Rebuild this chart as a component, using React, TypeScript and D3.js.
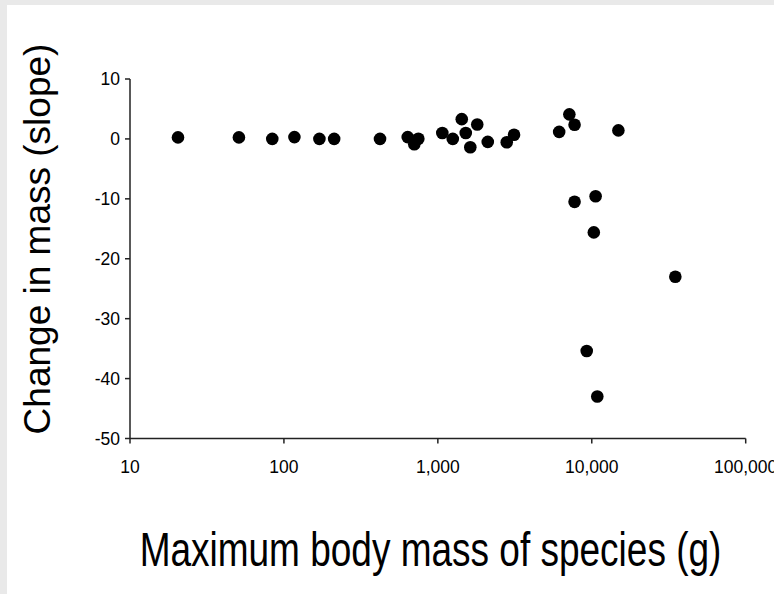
import React from "react";
import * as d3 from "d3";

const bodyMass = [20.5, 51, 84, 117, 170, 212, 421, 637, 747, 703, 1069, 1250, 1430, 1518, 1803, 1625, 2110, 2803, 3126, 6140, 7150, 7730, 14890, 7730, 10590, 10310, 34900, 9270, 10860];
const slope = [0.25, 0.25, 0, 0.3, 0, 0, 0, 0.3, 0.03, -0.9, 1.0, 0, 3.3, 1.0, 2.4, -1.4, -0.5, -0.55, 0.7, 1.17, 4.1, 2.37, 1.42, -10.5, -9.57, -15.6, -23.0, -35.4, -43.0];
const xTicks = [10, 100, 1000, 10000, 100000];
const yTicks = [10, 0, -10, -20, -30, -40, -50];
const xTitle = "Maximum body mass of species (g)";
const yTitle = "Change in mass (slope)";

const W = 774;
const H = 594;
const font = "'Liberation Sans', Arial, Helvetica, sans-serif";

export default function App() {
  const x = d3.scaleLog().domain([10, 100000]).range([130, 745.7]);
  const y = d3.scaleLinear().domain([-50, 10]).range([438.5, 79]);
  const fmt = d3.format(",");
  const axisColor = "#222";
  return (
    <div style={{ position: "fixed", left: 0, top: 0, width: W, height: H, background: "#e9e9e9" }}>
      <svg width={W} height={H} style={{ display: "block" }}>
        <rect x={7} y={5} width={W - 7} height={H - 5} fill="#ffffff" />
        {/* y axis */}
        <line x1={x(10)} x2={x(10)} y1={y(10)} y2={y(-50)} stroke={axisColor} strokeWidth={1.5} />
        {yTicks.map((t) => (
          <g key={"y" + t}>
            <line x1={x(10) - 5} x2={x(10)} y1={y(t)} y2={y(t)} stroke={axisColor} strokeWidth={1.5} />
            <text x={x(10) - 10} y={y(t) + 6.3} textAnchor="end" fontFamily={font} fontSize={17.5} fill="#000">
              {t}
            </text>
          </g>
        ))}
        {/* x axis */}
        <line x1={x(10)} x2={x(100000)} y1={y(-50)} y2={y(-50)} stroke={axisColor} strokeWidth={1.5} />
        {xTicks.map((t) => (
          <g key={"x" + t}>
            <line x1={x(t)} x2={x(t)} y1={y(-50)} y2={y(-50) + 5} stroke={axisColor} strokeWidth={1.5} />
            <text x={x(t)} y={473} textAnchor="middle" fontFamily={font} fontSize={17.5} fill="#000">
              {fmt(t)}
            </text>
          </g>
        ))}
        {/* points */}
        {bodyMass.map((m, i) => (
          <circle key={i} cx={x(m)} cy={y(slope[i])} r={6.3} fill="#000" />
        ))}
        {/* titles */}
        <text transform="translate(430.5,565.5) scale(1,1.28)" textAnchor="middle" fontFamily={font} fontSize={37} fill="#000">
          {xTitle}
        </text>
        <text transform={`translate(50,239) rotate(-90)`} textAnchor="middle" fontFamily={font} fontSize={37} fill="#000">
          {yTitle}
        </text>
      </svg>
    </div>
  );
}
